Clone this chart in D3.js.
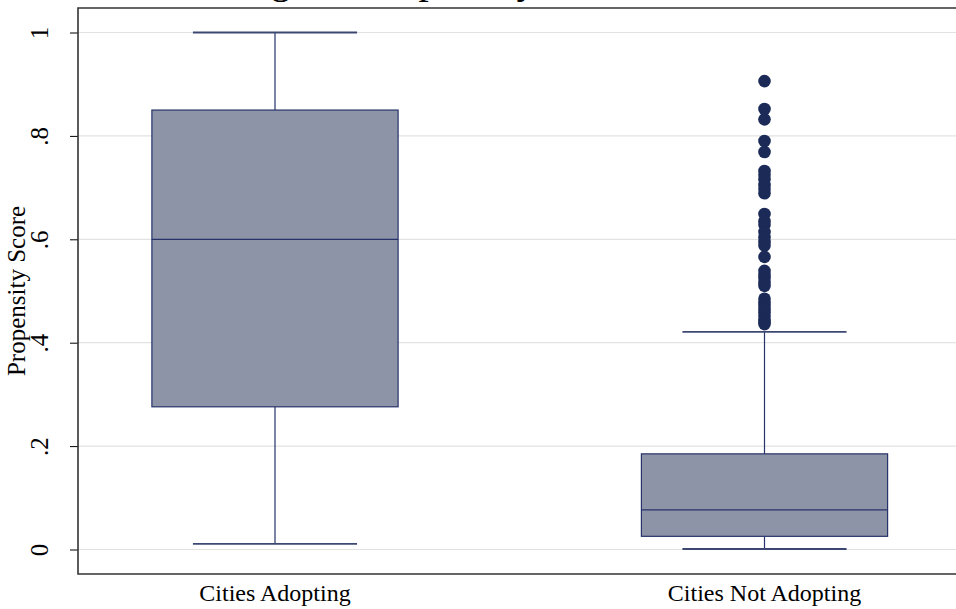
<!DOCTYPE html>
<html>
<head>
<meta charset="utf-8">
<script src="https://cdn.jsdelivr.net/npm/d3@7"></script>
<style>
  html, body { margin: 0; padding: 0; background: #ffffff; }
  svg { display: block; }
  text { font-family: "Liberation Serif", "Times New Roman", serif; fill: #000; }
</style>
</head>
<body>
<svg id="chart" width="956" height="609"></svg>
<script>
// Groups and their box-plot summaries
const categories = ["Cities Adopting", "Cities Not Adopting"];
const upperWhisker = [1.0, 0.421];
const q3 = [0.850, 0.185];
const median = [0.600, 0.0765];
const q1 = [0.276, 0.0255];
const lowerWhisker = [0.011, 0.001];

// Outside values for the non-adopting cities
const outliers = [0.906, 0.852, 0.832, 0.790, 0.769, 0.732, 0.725, 0.716, 0.705, 0.698, 0.689,
                  0.649, 0.635, 0.628, 0.614, 0.604, 0.595, 0.588, 0.566, 0.539, 0.532, 0.525,
                  0.517, 0.510, 0.485, 0.478, 0.472, 0.465, 0.459, 0.452, 0.445, 0.440, 0.436];

const yTicks = [0, 0.2, 0.4, 0.6, 0.8, 1];
const yTickLabels = ["0", ".2", ".4", ".6", ".8", "1"];

const svg = d3.select("#chart");
const frame = { left: 78, top: 8, bottom: 574, right: 970 };

const y = d3.scaleLinear().domain([0, 1]).range([549.5, 32.5]);
const x = d3.scalePoint().domain(categories).range([275, 764.5]);
const step = x(categories[1]) - x(categories[0]);
const boxW = step * 0.503;
const capW = boxW * 2 / 3;

const fillCol = "#8e94a8";
const lineCol = "#26336a";
const dotCol = "#1b2a57";

// Title (sits above the top edge)
svg.append("text")
  .attr("x", 111).attr("y", -7)
  .attr("font-size", 41)
  .text("Examining the Propensity Scores");

// Gridlines
svg.append("g").selectAll("line").data(yTicks).join("line")
  .attr("x1", frame.left).attr("x2", frame.right)
  .attr("y1", d => y(d)).attr("y2", d => y(d))
  .attr("stroke", "#e2e2e2").attr("stroke-width", 1.2);

// Y axis
const yAxis = svg.append("g")
  .attr("transform", `translate(${frame.left},0)`)
  .call(d3.axisLeft(y).tickValues(yTicks).tickSize(8).tickPadding(0)
        .tickFormat((d, i) => yTickLabels[i]));
yAxis.select(".domain").remove();
yAxis.selectAll(".tick line").attr("stroke", "#000").attr("stroke-width", 1);
yAxis.selectAll(".tick text")
  .attr("font-size", 25)
  .attr("font-family", "Liberation Serif, Times New Roman, serif")
  .attr("fill", "#000")
  .attr("text-anchor", "middle")
  .attr("x", null).attr("dy", null)
  .attr("transform", "translate(-30,0) rotate(-90)");

// Y axis title
svg.append("text")
  .attr("transform", `translate(25,${y(0.5)}) rotate(-90)`)
  .attr("text-anchor", "middle")
  .attr("font-size", 25)
  .text("Propensity Score");

// X category labels
svg.append("g").selectAll("text").data(categories).join("text")
  .attr("x", d => x(d)).attr("y", 601)
  .attr("text-anchor", "middle")
  .attr("font-size", 24)
  .text(d => d);

// Boxes
const groups = svg.append("g").selectAll("g").data(categories).join("g");

groups.append("line")
  .attr("x1", d => x(d)).attr("x2", d => x(d))
  .attr("y1", (d, i) => y(q3[i])).attr("y2", (d, i) => y(upperWhisker[i]))
  .attr("stroke", lineCol).attr("stroke-width", 1.2);
groups.append("line")
  .attr("x1", d => x(d)).attr("x2", d => x(d))
  .attr("y1", (d, i) => y(q1[i])).attr("y2", (d, i) => y(lowerWhisker[i]))
  .attr("stroke", lineCol).attr("stroke-width", 1.2);

groups.append("line")
  .attr("x1", d => x(d) - capW / 2).attr("x2", d => x(d) + capW / 2)
  .attr("y1", (d, i) => y(upperWhisker[i])).attr("y2", (d, i) => y(upperWhisker[i]))
  .attr("stroke", "#3c4872").attr("stroke-width", 1.8);
groups.append("line")
  .attr("x1", d => x(d) - capW / 2).attr("x2", d => x(d) + capW / 2)
  .attr("y1", (d, i) => y(lowerWhisker[i])).attr("y2", (d, i) => y(lowerWhisker[i]))
  .attr("stroke", "#3c4872").attr("stroke-width", 1.8);

groups.append("rect")
  .attr("x", d => x(d) - boxW / 2).attr("width", boxW)
  .attr("y", (d, i) => y(q3[i]))
  .attr("height", (d, i) => y(q1[i]) - y(q3[i]))
  .attr("fill", fillCol).attr("stroke", lineCol).attr("stroke-width", 1.2);

groups.append("line")
  .attr("x1", d => x(d) - boxW / 2).attr("x2", d => x(d) + boxW / 2)
  .attr("y1", (d, i) => y(median[i])).attr("y2", (d, i) => y(median[i]))
  .attr("stroke", lineCol).attr("stroke-width", 1.2);

// Outside values
svg.append("g").selectAll("circle").data(outliers).join("circle")
  .attr("cx", x(categories[1])).attr("cy", d => y(d))
  .attr("r", 6.3).attr("fill", dotCol);

// Plot frame (right edge runs past the page)
svg.append("path")
  .attr("d", `M${frame.right},${frame.top}H${frame.left}V${frame.bottom}H${frame.right}`)
  .attr("fill", "none").attr("stroke", "#333").attr("stroke-width", 1.6);
</script>
</body>
</html>
